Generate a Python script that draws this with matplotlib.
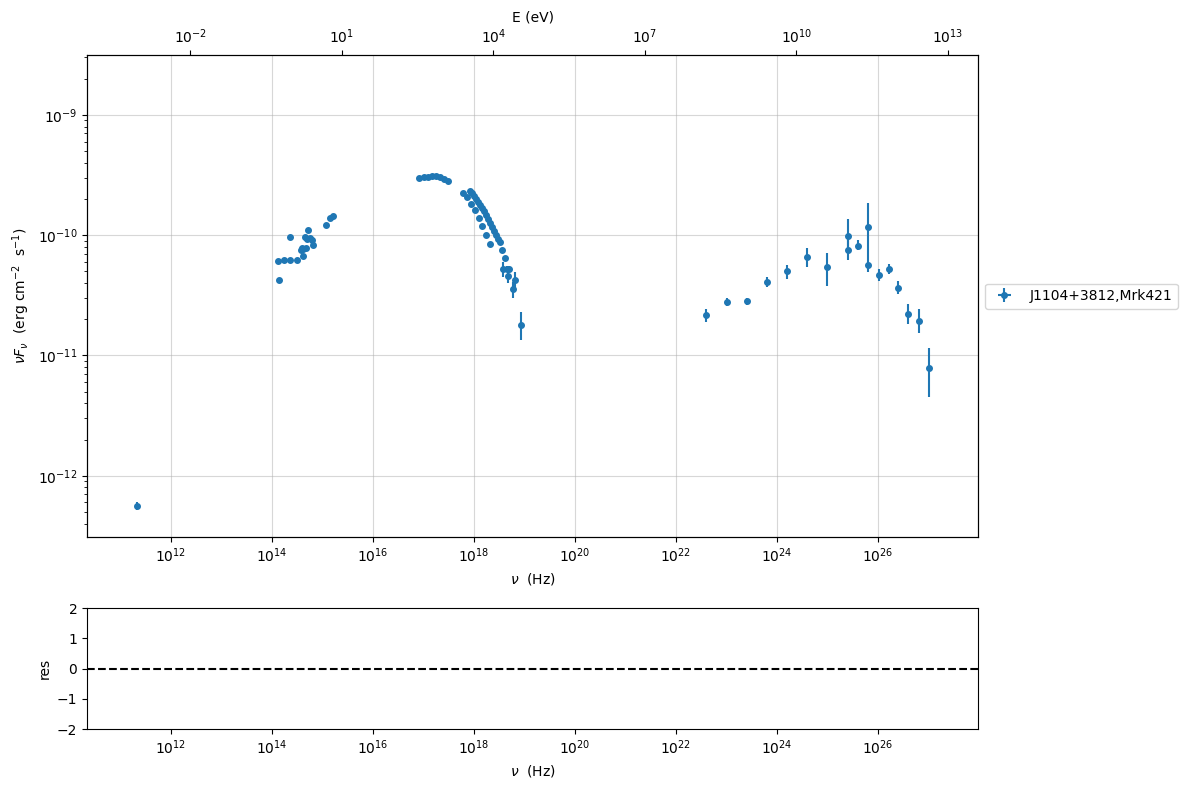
import numpy as np
import matplotlib
matplotlib.use("Agg")
import matplotlib.pyplot as plt
from matplotlib.ticker import FixedLocator, NullLocator

# ---------------- data (nu in Hz, nuFnu in erg cm^-2 s^-1) ----------------
nu_radio = [2.14e11]
F_radio = [5.6e-13]
elo_radio = [0.4e-13]
ehi_radio = [0.4e-13]

nu_opt = [1.40e14, 1.33e14, 1.75e14, 2.30e14, 3.16e14, 2.30e14, 3.70e14, 4.17e14,
          4.17e14, 4.71e14, 5.24e14, 4.50e14, 4.86e14, 5.65e14, 6.11e14, 6.58e14,
          3.89e14, 1.17e15, 1.41e15, 1.59e15]
F_opt = [4.28e-11, 6.08e-11, 6.19e-11, 6.19e-11, 6.19e-11, 9.57e-11, 7.50e-11, 6.73e-11,
         7.65e-11, 7.84e-11, 1.10e-10, 9.68e-11, 9.27e-11, 9.50e-11, 9.09e-11, 8.26e-11,
         7.76e-11, 1.21e-10, 1.38e-10, 1.44e-10]

nu_uv = [8.15e16, 1.02e17, 1.23e17, 1.47e17, 1.77e17, 2.12e17, 2.55e17, 3.06e17]
F_uv = [2.98e-10, 3.02e-10, 3.05e-10, 3.10e-10, 3.10e-10, 3.05e-10, 2.95e-10, 2.80e-10]

nu_x1 = [8.34e17, 9.12e17, 1.00e18, 1.10e18, 1.20e18, 1.32e18, 1.44e18, 1.58e18,
         1.73e18, 1.89e18, 2.07e18, 2.27e18, 2.49e18, 2.73e18, 2.99e18, 3.27e18]
F_x1 = [2.32e-10, 2.23e-10, 2.11e-10, 1.99e-10, 1.88e-10, 1.77e-10, 1.67e-10, 1.58e-10,
        1.47e-10, 1.36e-10, 1.26e-10, 1.17e-10, 1.08e-10, 1.00e-10, 9.30e-11, 8.75e-11]

nu_x2 = [6.17e17, 7.24e17, 8.71e17, 1.05e18, 1.23e18, 1.45e18, 1.74e18, 2.09e18]
F_x2 = [2.22e-10, 2.06e-10, 1.83e-10, 1.61e-10, 1.38e-10, 1.19e-10, 1.00e-10, 8.50e-11]

nu_hx = [3.63e18, 4.17e18, 3.68e18, 4.44e18, 5.00e18, 4.79e18, 6.46e18, 6.03e18, 8.51e18]
F_hx = [7.5e-11, 6.4e-11, 5.2e-11, 5.2e-11, 5.2e-11, 4.56e-11, 4.22e-11, 3.54e-11, 1.79e-11]
elo_hx = [0.2e-11, 0.3e-11, 0.7e-11, 0.3e-11, 0.3e-11, 0.56e-11, 0.52e-11, 0.56e-11, 0.45e-11]
ehi_hx = [0.2e-11, 0.3e-11, 0.8e-11, 0.3e-11, 0.3e-11, 0.34e-11, 0.74e-11, 0.56e-11, 0.51e-11]

nu_gam = [3.93e22, 1.01e23, 2.51e23, 6.46e23, 1.58e24, 3.98e24, 9.77e24, 2.57e25,
          2.57e25, 4.07e25, 6.46e25, 6.46e25, 1.02e26, 1.62e26, 2.51e26, 3.98e26,
          6.46e26, 1.02e27]
F_gam = [2.16e-11, 2.76e-11, 2.81e-11, 4.12e-11, 4.99e-11, 6.53e-11, 5.39e-11, 7.46e-11,
         9.76e-11, 8.20e-11, 1.16e-10, 5.60e-11, 4.71e-11, 5.19e-11, 3.67e-11, 2.23e-11,
         1.95e-11, 7.90e-12]
Flo_gam = [1.90e-11, 2.58e-11, 2.62e-11, 3.71e-11, 4.31e-11, 5.45e-11, 3.79e-11, 6.23e-11,
           7.46e-11, 7.50e-11, 6.80e-11, 4.95e-11, 4.17e-11, 4.74e-11, 3.24e-11, 1.82e-11,
           1.54e-11, 4.50e-12]
Fhi_gam = [2.45e-11, 2.98e-11, 3.03e-11, 4.50e-11, 5.63e-11, 7.80e-11, 7.09e-11, 9.08e-11,
           1.35e-10, 9.08e-11, 1.84e-10, 6.82e-11, 5.19e-11, 5.74e-11, 4.17e-11, 2.67e-11,
           2.43e-11, 1.15e-11]

label = "J1104+3812,Mrk421"
E_ticks = [1e-2, 1e1, 1e4, 1e7, 1e10, 1e13]

# ---------------- assemble ----------------
n_opt, n_uv, n_x1, n_x2 = len(nu_opt), len(nu_uv), len(nu_x1), len(nu_x2)
nu = np.concatenate([nu_radio, nu_opt, nu_uv, nu_x1, nu_x2, nu_hx, nu_gam])
F = np.concatenate([F_radio, F_opt, F_uv, F_x1, F_x2, F_hx, F_gam])
F_gam_a = np.array(F_gam)
elo = np.concatenate([elo_radio, np.zeros(n_opt + n_uv + n_x1 + n_x2), elo_hx,
                      F_gam_a - np.array(Flo_gam)])
ehi = np.concatenate([ehi_radio, np.zeros(n_opt + n_uv + n_x1 + n_x2), ehi_hx,
                      np.array(Fhi_gam) - F_gam_a])

h_eV = 4.135667696e-15
xlim = (2.17e10, 9.55e27)

fig = plt.figure(figsize=(11.89, 7.89), dpi=100)
ax = fig.add_axes([0.0732, 0.3194, 0.7494, 0.6106])
ax2 = fig.add_axes([0.0732, 0.0760, 0.7494, 0.1534])

ax.errorbar(nu, F, yerr=[elo, ehi], xerr=np.zeros_like(nu), fmt='o', ms=4,
            color='#1f77b4', elinewidth=1.5, label=label)
ax.set_xscale('log')
ax.set_yscale('log')
ax.set_xlim(*xlim)
ax.set_ylim(3.1e-13, 3.13e-9)
ax.grid(True, color='#b0b0b0', alpha=0.5, lw=0.8)
ax.set_xlabel(r'$\nu$  (Hz)')
ax.set_ylabel(r'$\nu F_{\nu}$  (erg cm$^{-2}$  s$^{-1}$)')
ax.legend(loc='center left', bbox_to_anchor=(1.0, 0.5))

axt = ax.twiny()
axt.set_xscale('log')
axt.set_xlim(xlim[0] * h_eV, xlim[1] * h_eV)
axt.xaxis.set_major_locator(FixedLocator(E_ticks))
axt.xaxis.set_minor_locator(NullLocator())
axt.set_xlabel('E (eV)')

ax2.axhline(0, ls='--', color='k', lw=1.5)
ax2.set_xscale('log')
ax2.set_xlim(*xlim)
ax2.set_ylim(-2, 2)
ax2.set_ylabel('res')
ax2.set_xlabel(r'$\nu$  (Hz)')

fig.savefig('out.png', dpi=100)
